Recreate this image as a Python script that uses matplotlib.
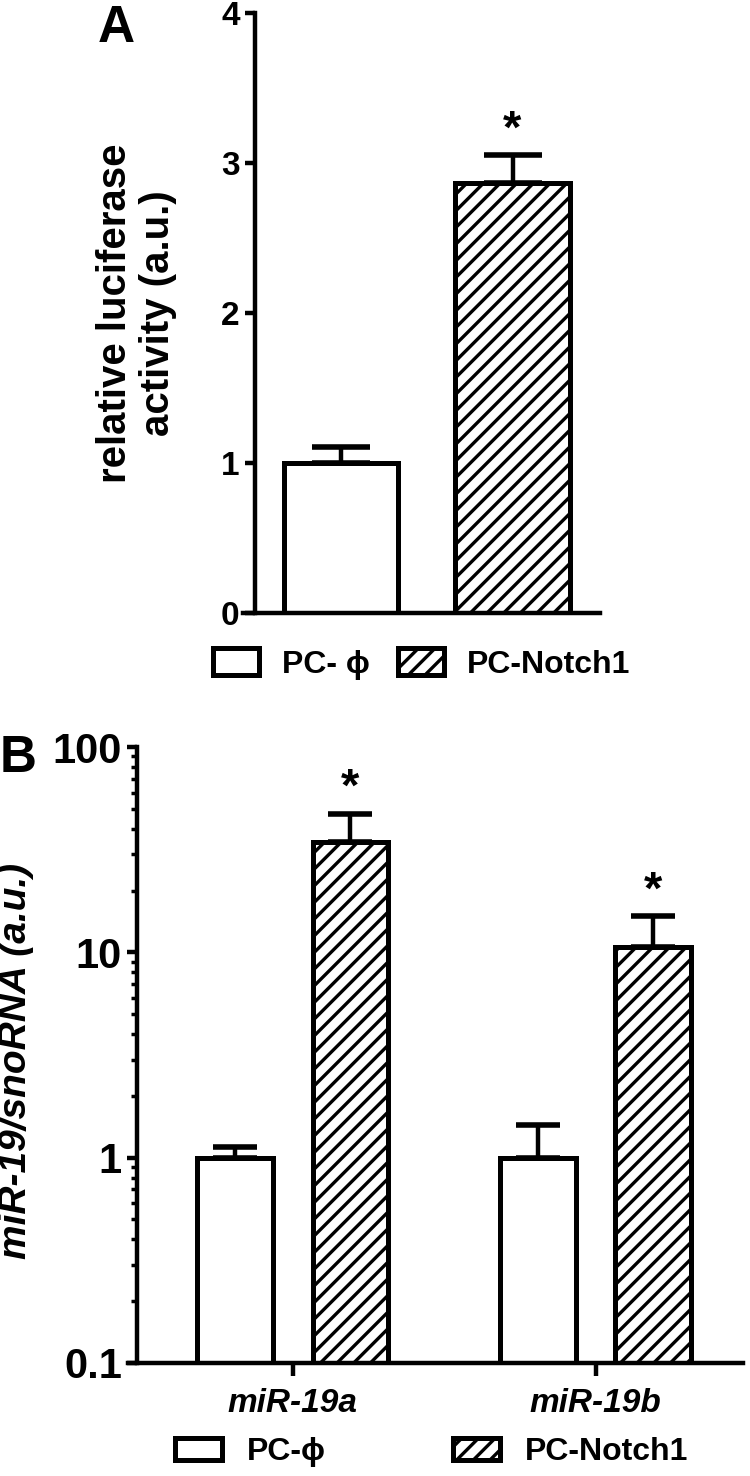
"""
Two-panel bar chart: luciferase activity (A) and miR-19 levels on a log scale (B).
"""

import numpy as np
import matplotlib
matplotlib.use('Agg')
import matplotlib.pyplot as plt
from matplotlib import ticker
from matplotlib.patches import Patch

plt.rcParams['font.family'] = ['Liberation Sans', 'DejaVu Sans']
plt.rcParams['font.weight'] = 'bold'
plt.rcParams['hatch.linewidth'] = 2.4
plt.rcParams['hatch.color'] = 'black'

# panel A data
a_groups = ['PC- \u03d5', 'PC-Notch1']
a_values = [1.0, 2.87]
a_err_up = [0.11, 0.18]

# panel B data
b_genes = ['miR-19a', 'miR-19b']
b_ctrl = [1.0, 1.0]
b_ctrl_err = [0.13, 0.44]
b_notch = [34.3, 10.6]
b_notch_err = [13.0, 4.4]
b_legend = ['PC-\u03d5', 'PC-Notch1']

LW = 3.6
fig = plt.figure(figsize=(7.5, 14.76), dpi=100)

# ---------------- panel A ----------------
axA = fig.add_axes([243 / 750, 1 - 613 / 1476, 357 / 750, 600 / 1476])
xa = np.arange(len(a_values))
barsA = axA.bar(xa, a_values, width=0.665, color='white', edgecolor='black',
                linewidth=LW, zorder=2)
barsA[1].set_hatch('//')
axA.errorbar(xa, a_values, yerr=[np.zeros(len(a_values)), a_err_up], fmt='none',
             ecolor='black', elinewidth=3.2, capsize=21, capthick=4, zorder=1)
axA.annotate('*', (xa[1], a_values[1] + a_err_up[1]), xytext=(0, 2),
             textcoords='offset points', ha='center', va='bottom', fontsize=34)

axA.set_xlim(-0.571, 1.51)
axA.set_ylim(0, 4)
axA.set_yticks([0, 1, 2, 3, 4])
axA.set_xticks([])
axA.spines['top'].set_visible(False)
axA.spines['right'].set_visible(False)
axA.spines['left'].set_position(('data', -0.501))
for s in ['left', 'bottom']:
    axA.spines[s].set_linewidth(3.2)
axA.tick_params(axis='y', length=7, width=3.2, labelsize=24, pad=4)
axA.set_ylabel('relative luciferase\nactivity (a.u.)', fontsize=29,
               fontweight='bold', linespacing=1.15)
axA.yaxis.set_label_coords(-0.185, 0.5)

fig.legend(handles=[Patch(facecolor='white', edgecolor='black', linewidth=LW),
                    Patch(facecolor='white', edgecolor='black', linewidth=LW, hatch='//')],
           labels=a_groups, loc='center', bbox_to_anchor=(421.5 / 750, 1 - 664 / 1476),
           ncol=2, frameon=False, fontsize=23, handlelength=1.45, handleheight=0.9,
           handletextpad=0.7, columnspacing=0.9)

fig.text(116 / 750, 1 - 42 / 1476, 'A', fontsize=37, fontweight='bold',
         ha='center', va='baseline')

# ---------------- panel B ----------------
axB = fig.add_axes([128 / 750, 1 - 1363 / 1476, 615 / 750, 616 / 1476])
xb = np.arange(len(b_genes))
off = 0.19
axB.set_yscale('log')
axB.bar(xb - off, b_ctrl, width=0.25, color='white', edgecolor='black',
        linewidth=LW, zorder=2)
axB.bar(xb + off, b_notch, width=0.25, color='white', edgecolor='black',
        linewidth=LW, hatch='//', zorder=2)
axB.errorbar(xb - off, b_ctrl, yerr=[np.zeros(2), b_ctrl_err], fmt='none',
             ecolor='black', elinewidth=3.2, capsize=15.5, capthick=4, zorder=1)
axB.errorbar(xb + off, b_notch, yerr=[np.zeros(2), b_notch_err], fmt='none',
             ecolor='black', elinewidth=3.2, capsize=15.5, capthick=4, zorder=1)
for xi, v, e in zip(xb + off, b_notch, b_notch_err):
    axB.annotate('*', (xi, v + e), xytext=(0, 2), textcoords='offset points',
                 ha='center', va='bottom', fontsize=34)

axB.set_xlim(-0.544, 1.486)
axB.set_ylim(0.1, 100)
axB.yaxis.set_major_locator(ticker.FixedLocator([0.1, 1, 10, 100]))
axB.yaxis.set_major_formatter(ticker.FuncFormatter(lambda v, p: f'{v:g}'))
axB.yaxis.set_minor_locator(ticker.LogLocator(base=10, subs=np.arange(2, 10)))
axB.yaxis.set_minor_formatter(ticker.NullFormatter())
axB.set_xticks(xb)
axB.set_xticklabels(b_genes, fontsize=24, fontstyle='italic', fontweight='bold')
axB.spines['top'].set_visible(False)
axB.spines['right'].set_visible(False)
axB.spines['left'].set_position(('data', -0.514))
for s in ['left', 'bottom']:
    axB.spines[s].set_linewidth(3.2)
axB.tick_params(axis='y', which='major', length=7, width=3.2, labelsize=30, pad=4)
axB.tick_params(axis='y', which='minor', length=4, width=2.5)
axB.tick_params(axis='x', length=9, width=3.2, pad=9)
axB.set_ylabel('miR-19/snoRNA (a.u.)', fontsize=28, fontweight='bold', fontstyle='italic')
axB.yaxis.set_label_coords(-0.153, 0.49)

fig.legend(handles=[Patch(facecolor='white', edgecolor='black', linewidth=LW),
                    Patch(facecolor='white', edgecolor='black', linewidth=LW, hatch='//')],
           labels=b_legend, loc='center', bbox_to_anchor=(431.5 / 750, 1 - 1452 / 1476),
           ncol=2, frameon=False, fontsize=23, handlelength=1.45, handleheight=0.7,
           handletextpad=0.78, columnspacing=4.0)

fig.text(18 / 750, 1 - 772 / 1476, 'B', fontsize=37, fontweight='bold',
         ha='center', va='baseline')

fig.savefig('out.png', dpi=100)
